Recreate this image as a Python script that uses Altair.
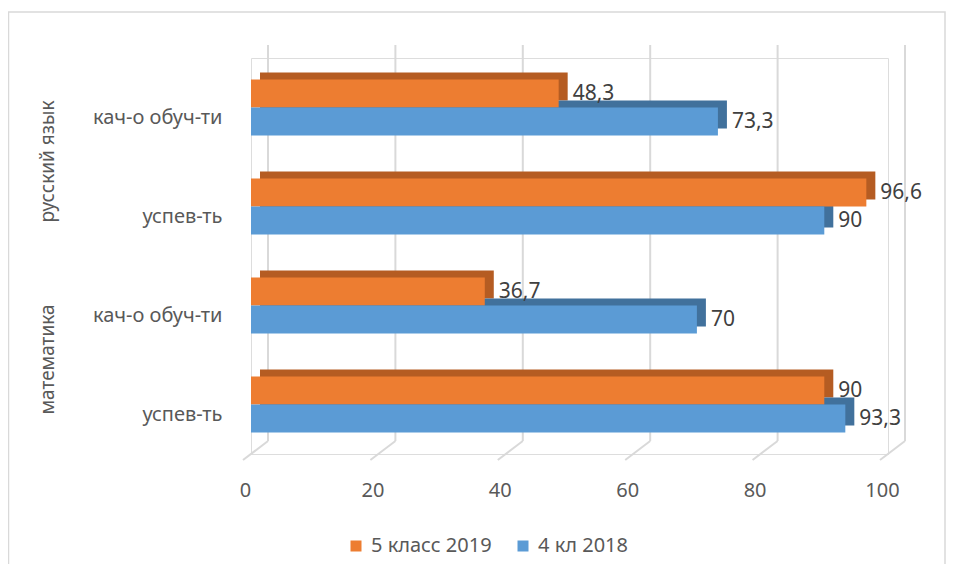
import altair as alt
import pandas as pd

# ---- data ----
groups = ["русский язык", "русский язык", "математика", "математика"]
subcats = ["кач-о обуч-ти", "успев-ть", "кач-о обуч-ти", "успев-ть"]
series_names = ["5 класс 2019", "4 кл 2018"]
v2019 = [48.3, 96.6, 36.7, 90]
v2018 = [73.3, 90, 70, 93.3]
ticks = [0, 20, 40, 60, 80, 100]
group_titles = ["русский язык", "математика"]

keys = [g + "|" + s for g, s in zip(groups, subcats)]
rows = []
for k, a, b in zip(keys, v2019, v2018):
    rows.append({"key": k, "series": series_names[0], "value": a})
    rows.append({"key": k, "series": series_names[1], "value": b})
df = pd.DataFrame(rows)
ticks_df = pd.DataFrame({"t": ticks})
group_df = pd.DataFrame({"g": group_titles,
                         "key": [keys[0], keys[2]]})

FONT = "Noto Sans"
TXT = "#595959"
GRID = "#D9D9D9"
ORANGE, BLUE = "#ED7D31", "#5B9BD5"
ORANGE_D, BLUE_D = "#B55C22", "#41719C"

W, H = 637, 396
xscale = alt.Scale(domain=[0, 100], nice=False, zero=True)
yscale = alt.Scale(domain=keys, paddingInner=0, paddingOuter=0)

yaxis = alt.Axis(title=None, labelExpr="split(datum.label, '|')[1]",
                 domain=False, ticks=False, grid=False, labelPadding=29,
                 labelFontSize=20, labelFont=FONT, labelColor=TXT,
                 labelOffset=10)
xaxis = alt.Axis(values=ticks, title=None, domain=False, ticks=False,
                 grid=False, labelOffset=-6, labelPadding=26,
                 labelFlush=False, labelBound=False, labelOverlap=False,
                 labelFontSize=20, labelFont=FONT, labelColor=TXT)
Y = alt.Y("key:N", scale=yscale, sort=keys, axis=yaxis, title=None)
Xv = alt.X("value:Q", scale=xscale, axis=xaxis, title=None)
Xt = alt.X("t:Q", scale=xscale, axis=xaxis, title=None)

color_enc = alt.Color(
    "series:N",
    scale=alt.Scale(domain=series_names, range=[ORANGE, BLUE]),
    legend=alt.Legend(orient="none", legendX=95, legendY=478,
                      direction="horizontal", title=None,
                      symbolType="square", symbolSize=121,
                      symbolStrokeWidth=0, labelFontSize=20,
                      labelFont=FONT, labelColor=TXT, columnPadding=21,
                      labelOffset=5),
)

# frame
frame = alt.Chart(pd.DataFrame({"a": [0]})).mark_rect(
    fillOpacity=0, stroke=GRID, strokeWidth=1.5
).encode(x=alt.value(-242.5), x2=alt.value(694), y=alt.value(-46), y2=alt.value(560))

# back-wall gridlines
grid = alt.Chart(ticks_df).mark_rule(color=GRID, strokeWidth=2, xOffset=17).encode(
    x=Xt, y=alt.value(-13), y2=alt.value(383),
)
floor = alt.Chart(ticks_df).mark_rule(color=GRID, strokeWidth=2,
                                      xOffset=17, x2Offset=-8).encode(
    x=Xt, x2="t:Q", y=alt.value(383), y2=alt.value(402),
)

layers = [frame, grid, floor]
for s, dark, off in [(series_names[0], ORANGE_D, -14), (series_names[1], BLUE_D, 14)]:
    layers.append(
        alt.Chart(df).transform_filter(alt.datum.series == s).mark_bar(
            color=dark, size=28, yOffset=off - 7, xOffset=9, x2Offset=9
        ).encode(x=Xv, y=Y)
    )
for s, off in [(series_names[0], -14), (series_names[1], 14)]:
    layers.append(
        alt.Chart(df).transform_filter(alt.datum.series == s).mark_bar(
            size=28, yOffset=off
        ).encode(x=Xv, y=Y, color=color_enc)
    )
for s, off in [(series_names[0], -14), (series_names[1], 14)]:
    layers.append(
        alt.Chart(df).transform_filter(alt.datum.series == s).transform_calculate(
            lab="replace(format(datum.value, '.1~f'), '.', ',')"
        ).mark_text(align="left", baseline="middle", dx=14, yOffset=off,
                    fontSize=21, font=FONT, color="#404040").encode(
            x=Xv, y=Y, text="lab:N")
    )

gtext = alt.Chart(group_df).mark_text(angle=270, align="center", baseline="middle",
                                      fontSize=19, font=FONT, color=TXT,
                                      yOffset=54).encode(
    y=Y, x=alt.value(-203), text="g:N")
layers.append(gtext)

chart = alt.layer(*layers).properties(
    width=W, height=H,
    autosize=alt.AutoSizeParams(type="none"),
    padding={"left": 243, "top": 50, "right": 58, "bottom": 110},
).configure_view(stroke=None).configure(background="white")

chart.save("out.html", embed_options={"renderer": "svg", "actions": False})
